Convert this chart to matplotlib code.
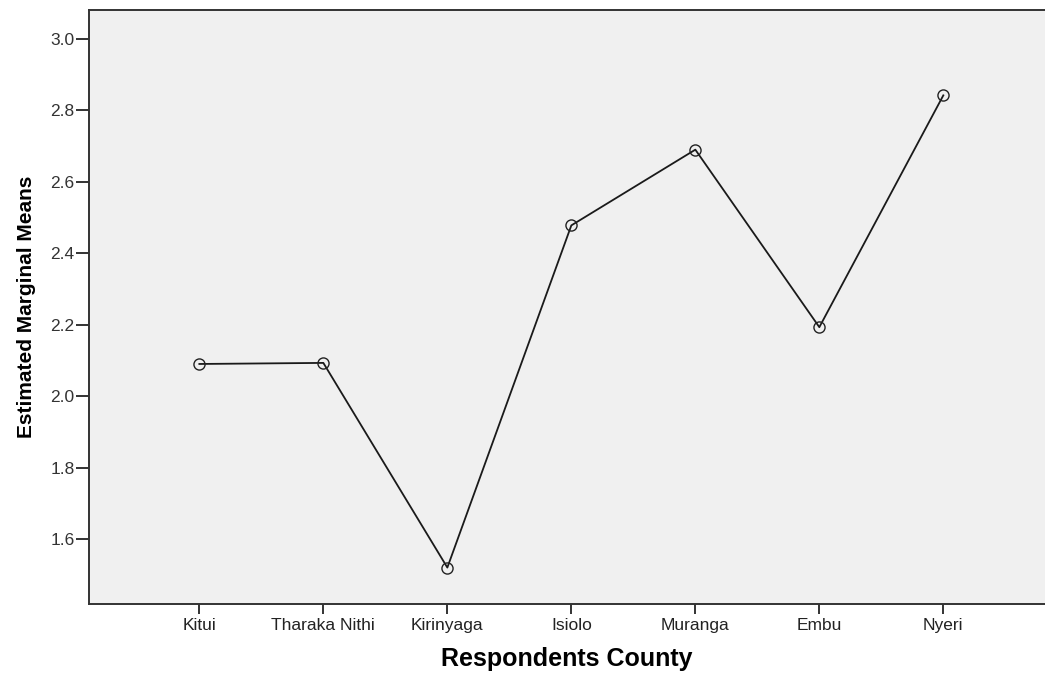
import numpy as np
import matplotlib.pyplot as plt

plt.rcParams['font.family'] = ['Liberation Sans', 'DejaVu Sans']

# Estimated marginal means by county
counties = ["Kitui", "Tharaka Nithi", "Kirinyaga", "Isiolo", "Muranga", "Embu", "Nyeri"]
means = [2.090, 2.093, 1.520, 2.478, 2.690, 2.193, 2.842]
yticks = [1.6, 1.8, 2.0, 2.2, 2.4, 2.6, 2.8, 3.0]

x = np.arange(1, len(counties) + 1)

fig = plt.figure(figsize=(10.45, 6.73), dpi=100, facecolor='w')
ax = fig.add_axes([89/1045, 69/673, 1 - 89/1045, 594/673])
ax.set_facecolor('#f0f0f0')

ax.plot(x, means, color='#1a1a1a', lw=1.3, marker='o', markersize=8,
        markerfacecolor='none', markeredgecolor='#222222', markeredgewidth=1.0)

ax.set_xlim(0.11, 7.82)
ax.set_ylim(1.418, 3.081)
ax.set_xticks(x)
ax.set_xticklabels(counties, fontsize=12.5, color='#222222')
ax.set_yticks(yticks)
ax.set_yticklabels(["%.1f" % v for v in yticks], fontsize=12.5, color='#333333')

for s in ['left', 'top', 'bottom']:
    ax.spines[s].set_color('#333333')
    ax.spines[s].set_linewidth(1.4)
ax.spines['right'].set_visible(False)
ax.tick_params(axis='y', length=9.5, width=1.4, color='#333333', pad=1)
ax.tick_params(axis='x', length=7, width=1.4, color='#333333', pad=3)

ax.set_xlabel("Respondents County", fontsize=18, fontweight='bold', labelpad=10)
ax.set_ylabel("Estimated Marginal Means", fontsize=15, fontweight='bold', labelpad=10)

plt.savefig("out.png", dpi=100)
